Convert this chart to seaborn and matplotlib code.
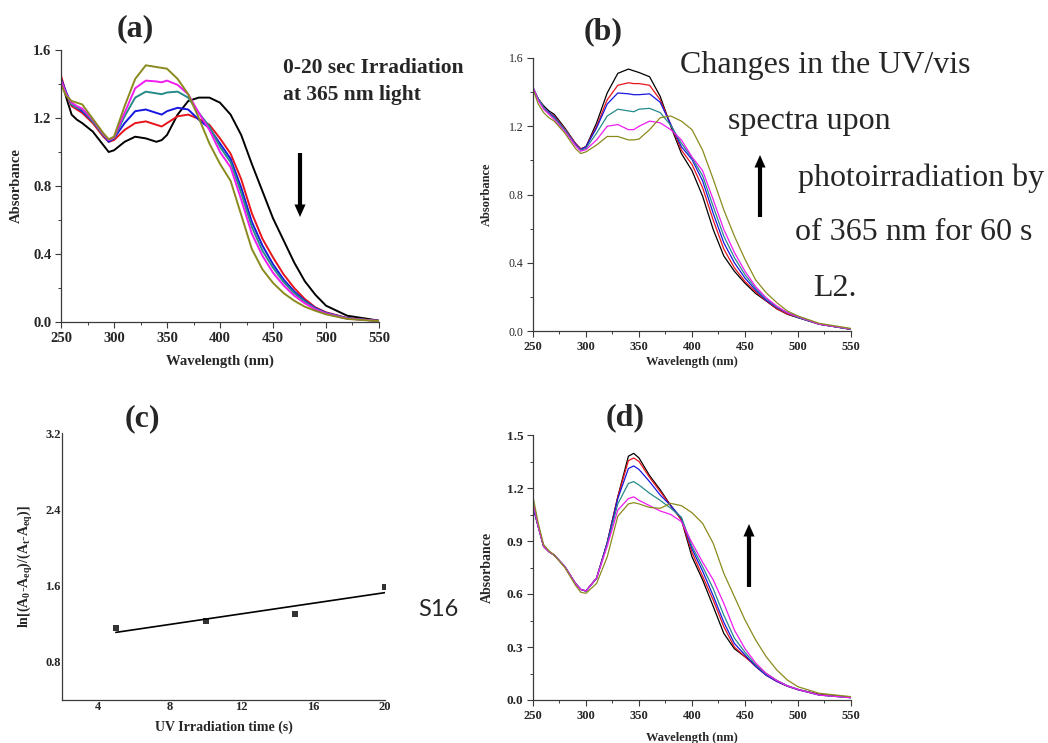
import numpy as np
import pandas as pd
import matplotlib
matplotlib.use("Agg")
import matplotlib.pyplot as plt
import seaborn as sns
from matplotlib.ticker import MultipleLocator
from matplotlib.patches import FancyArrowPatch

# ---------------- data ----------------
WL = [250, 255, 260, 265, 270, 280, 290, 295, 300, 310, 320, 330, 340, 345, 350,
      360, 370, 380, 390, 400, 410, 420, 430, 440, 450, 460, 470, 480, 490, 500, 520, 550]

TRACES = ["black", "red", "blue", "teal", "magenta", "olive"]
PALETTE = {"black": "#000000", "red": "#e8141c", "blue": "#1717e0",
           "teal": "#268a8a", "magenta": "#f01cf0", "olive": "#8a8a1e"}

# panel (a): 0-20 s irradiation
a_black = [1.43, 1.32, 1.22, 1.19, 1.17, 1.12, 1.04, 1.00, 1.01, 1.06, 1.09, 1.08, 1.06, 1.07, 1.10,
           1.22, 1.30, 1.32, 1.32, 1.29, 1.22, 1.10, 0.93, 0.77, 0.61, 0.48, 0.35, 0.24, 0.16, 0.096, 0.037, 0.008]
a_red = [1.45, 1.34, 1.27, 1.25, 1.23, 1.17, 1.09, 1.06, 1.07, 1.13, 1.17, 1.18, 1.16, 1.15, 1.17,
         1.21, 1.22, 1.195, 1.16, 1.08, 0.99, 0.84, 0.64, 0.49, 0.38, 0.28, 0.20, 0.135, 0.086, 0.057, 0.023, 0.006]
a_blue = [1.43, 1.35, 1.28, 1.26, 1.24, 1.18, 1.10, 1.06, 1.08, 1.17, 1.24, 1.25, 1.23, 1.22, 1.24,
          1.26, 1.25, 1.19, 1.14, 1.05, 0.96, 0.79, 0.59, 0.45, 0.34, 0.25, 0.18, 0.125, 0.082, 0.054, 0.022, 0.006]
a_teal = [1.42, 1.34, 1.28, 1.26, 1.25, 1.18, 1.10, 1.07, 1.08, 1.21, 1.32, 1.355, 1.345, 1.34, 1.35,
          1.355, 1.32, 1.23, 1.15, 1.03, 0.94, 0.76, 0.56, 0.42, 0.32, 0.235, 0.17, 0.12, 0.078, 0.052, 0.021, 0.006]
a_magenta = [1.42, 1.34, 1.29, 1.27, 1.255, 1.19, 1.105, 1.07, 1.085, 1.23, 1.375, 1.42, 1.415, 1.41, 1.42,
             1.395, 1.34, 1.23, 1.13, 1.00, 0.91, 0.72, 0.52, 0.39, 0.29, 0.215, 0.155, 0.11, 0.074, 0.05, 0.02, 0.006]
a_olive = [1.395, 1.33, 1.30, 1.29, 1.28, 1.195, 1.11, 1.075, 1.09, 1.27, 1.43, 1.51, 1.50, 1.495, 1.49,
           1.43, 1.34, 1.20, 1.05, 0.93, 0.83, 0.63, 0.43, 0.31, 0.23, 0.17, 0.125, 0.09, 0.066, 0.045, 0.018, 0.005]

# panel (b): 60 s photoirradiation
b_black = [1.415, 1.36, 1.32, 1.29, 1.27, 1.19, 1.10, 1.067, 1.08, 1.22, 1.395, 1.51, 1.535, 1.525, 1.515,
           1.49, 1.375, 1.20, 1.04, 0.94, 0.79, 0.595, 0.44, 0.35, 0.28, 0.22, 0.176, 0.13, 0.098, 0.078, 0.04, 0.01]
b_red = [1.42, 1.36, 1.31, 1.28, 1.26, 1.185, 1.10, 1.067, 1.08, 1.20, 1.355, 1.44, 1.455, 1.45, 1.45,
         1.44, 1.355, 1.21, 1.06, 0.976, 0.84, 0.65, 0.48, 0.37, 0.29, 0.23, 0.176, 0.13, 0.10, 0.08, 0.04, 0.01]
b_blue = [1.42, 1.36, 1.31, 1.28, 1.255, 1.18, 1.095, 1.063, 1.08, 1.19, 1.33, 1.395, 1.39, 1.385, 1.385,
          1.39, 1.34, 1.21, 1.08, 1.005, 0.88, 0.69, 0.517, 0.40, 0.31, 0.24, 0.18, 0.137, 0.107, 0.08, 0.04, 0.01]
b_teal = [1.43, 1.36, 1.31, 1.275, 1.25, 1.18, 1.09, 1.06, 1.07, 1.16, 1.26, 1.30, 1.29, 1.285, 1.30,
          1.305, 1.28, 1.205, 1.10, 1.015, 0.91, 0.73, 0.556, 0.43, 0.33, 0.25, 0.19, 0.14, 0.107, 0.08, 0.04, 0.01]
b_magenta = [1.43, 1.35, 1.30, 1.27, 1.24, 1.17, 1.087, 1.054, 1.063, 1.12, 1.20, 1.21, 1.18, 1.18, 1.20,
             1.23, 1.22, 1.18, 1.12, 1.02, 0.94, 0.77, 0.595, 0.46, 0.35, 0.26, 0.195, 0.146, 0.107, 0.084, 0.04, 0.012]
b_olive = [1.415, 1.33, 1.28, 1.25, 1.23, 1.16, 1.07, 1.04, 1.05, 1.09, 1.14, 1.14, 1.12, 1.12, 1.125,
           1.18, 1.25, 1.26, 1.23, 1.18, 1.06, 0.89, 0.71, 0.556, 0.42, 0.30, 0.224, 0.166, 0.117, 0.088, 0.045, 0.015]

# panel (d)
d_black = [1.10, 0.98, 0.87, 0.84, 0.82, 0.755, 0.66, 0.626, 0.617, 0.69, 0.89, 1.15, 1.38, 1.396, 1.37,
           1.27, 1.19, 1.10, 1.02, 0.81, 0.68, 0.53, 0.377, 0.29, 0.245, 0.198, 0.15, 0.11, 0.08, 0.06, 0.032, 0.016]
d_red = [1.10, 0.98, 0.87, 0.84, 0.82, 0.755, 0.66, 0.626, 0.617, 0.69, 0.89, 1.15, 1.355, 1.37, 1.35,
         1.26, 1.18, 1.10, 1.02, 0.835, 0.70, 0.566, 0.415, 0.30, 0.245, 0.19, 0.14, 0.105, 0.078, 0.058, 0.03, 0.014]
d_blue = [1.09, 0.98, 0.87, 0.84, 0.82, 0.755, 0.66, 0.626, 0.617, 0.69, 0.89, 1.14, 1.31, 1.325, 1.305,
          1.236, 1.16, 1.10, 1.03, 0.855, 0.73, 0.59, 0.44, 0.32, 0.255, 0.19, 0.14, 0.105, 0.078, 0.058, 0.028, 0.013]
d_teal = [1.11, 0.98, 0.87, 0.84, 0.82, 0.755, 0.66, 0.626, 0.617, 0.69, 0.88, 1.11, 1.226, 1.236, 1.217,
          1.17, 1.13, 1.085, 1.034, 0.87, 0.755, 0.63, 0.48, 0.35, 0.27, 0.20, 0.147, 0.11, 0.08, 0.06, 0.028, 0.013]
d_magenta = [1.12, 0.98, 0.87, 0.84, 0.82, 0.755, 0.66, 0.626, 0.617, 0.69, 0.87, 1.075, 1.14, 1.15, 1.13,
             1.10, 1.07, 1.05, 1.01, 0.89, 0.78, 0.68, 0.547, 0.396, 0.29, 0.21, 0.15, 0.11, 0.08, 0.06, 0.028, 0.013]
d_olive = [1.15, 1.00, 0.88, 0.845, 0.82, 0.75, 0.65, 0.61, 0.604, 0.66, 0.81, 1.04, 1.11, 1.117, 1.11,
           1.09, 1.085, 1.113, 1.10, 1.06, 1.00, 0.887, 0.717, 0.585, 0.453, 0.34, 0.245, 0.17, 0.113, 0.075, 0.038, 0.019]

# panel (c): kinetics
t_irr = [5, 10, 15, 20]
ln_ratio = [1.15, 1.23, 1.30, 1.59]

# ticks
SPEC_XT = [250, 300, 350, 400, 450, 500, 550]
AB_YT = [0.0, 0.4, 0.8, 1.2, 1.6]
D_YT = [0.0, 0.3, 0.6, 0.9, 1.2, 1.5]
C_XT = [4, 8, 12, 16, 20]
C_YT = [0.8, 1.6, 2.4, 3.2]

# ---------------- style ----------------
sns.set_theme(style="ticks")
plt.rcParams["font.family"] = ["Liberation Serif", "DejaVu Serif"]
plt.rcParams["mathtext.fontset"] = "custom"
plt.rcParams["mathtext.rm"] = "Liberation Serif"
plt.rcParams["mathtext.bf"] = "Liberation Serif:bold"
plt.rcParams["mathtext.it"] = "Liberation Serif:italic"

FW, FH = 1048, 743
fig = plt.figure(figsize=(FW / 100, FH / 100), dpi=100)


def box(x0, y0, x1, y1):
    return [x0 / FW, 1 - y1 / FH, (x1 - x0) / FW, (y1 - y0) / FH]


def fp(x, y):
    return (x / FW, 1 - y / FH)


def long_df(series):
    rows = []
    for name, vals in zip(TRACES, series):
        rows.append(pd.DataFrame({"Wavelength": WL, "Absorbance": vals, "trace": name}))
    return pd.concat(rows, ignore_index=True)


def spectra(ax, series, lw):
    sns.lineplot(data=long_df(series), x="Wavelength", y="Absorbance", hue="trace",
                 hue_order=TRACES, palette=PALETTE, legend=False, ax=ax,
                 estimator=None, sort=False, lw=lw)


def style_axis(ax, xt, yt, xlim, ylim, xminor, yminor, xsize, ysize, yweight="bold"):
    ax.set_xlim(*xlim)
    ax.set_ylim(*ylim)
    ax.set_xticks(xt)
    ax.set_xticklabels([str(v) for v in xt], fontweight="bold", fontsize=xsize)
    ax.set_yticks(yt)
    ax.set_yticklabels([f"{v:.1f}" for v in yt], fontweight=yweight, fontsize=ysize)
    if xminor:
        ax.xaxis.set_minor_locator(MultipleLocator(xminor))
    if yminor:
        ax.yaxis.set_minor_locator(MultipleLocator(yminor))
    sns.despine(ax=ax)
    for s in ("left", "bottom"):
        ax.spines[s].set_color("#3a3a3a")
        ax.spines[s].set_linewidth(0.9)
    ax.tick_params(which="major", direction="out", length=4, width=0.8, color="#3a3a3a", pad=3)
    ax.tick_params(which="minor", direction="out", length=2.2, width=0.7, color="#3a3a3a")


# ---- (a)
axa = fig.add_axes(box(61, 50, 379, 322))
spectra(axa, [a_black, a_red, a_blue, a_teal, a_magenta, a_olive], 1.4)
style_axis(axa, SPEC_XT, AB_YT, (250, 550), (0, 1.6), 25, 0.2, 10.5, 10.5)
axa.set_xlabel("Wavelength (nm)", fontweight="bold", fontsize=10.5)
axa.set_ylabel("Absorbance", fontweight="bold", fontsize=10.5)
axa.xaxis.set_label_coords(0.5, -0.12)
axa.yaxis.set_label_coords(-0.12, 0.5)

# ---- (b)
axb = fig.add_axes(box(533, 58, 851, 331))
spectra(axb, [b_black, b_red, b_blue, b_teal, b_magenta, b_olive], 0.9)
style_axis(axb, SPEC_XT, AB_YT, (250, 550), (0, 1.6), 25, 0.2, 9, 8.5, yweight="normal")
axb.set_xlabel("Wavelength (nm)", fontweight="bold", fontsize=9)
axb.set_ylabel("Absorbance", fontweight="bold", fontsize=9)
axb.xaxis.set_label_coords(0.5, -0.09)
axb.yaxis.set_label_coords(-0.125, 0.5)

# ---- (c)
axc = fig.add_axes(box(62, 433, 385, 700))
sns.regplot(x=t_irr, y=ln_ratio, ax=axc, ci=None, marker="s", color="black",
            scatter_kws=dict(s=24, linewidths=0), line_kws=dict(lw=1.2))
style_axis(axc, C_XT, C_YT, (2, 20), (0.4, 3.2), None, None, 9, 9)
axc.tick_params(which="major", length=0, pad=1)
axc.set_xlabel("UV Irradiation time (s)", fontweight="bold", fontsize=10)
axc.set_ylabel(r"ln[(A$_\mathbf{0}$-A$_\mathbf{eq}$)/(A$_\mathbf{t}$-A$_\mathbf{eq}$)]",
               fontweight="bold", fontsize=10)
axc.xaxis.set_label_coords(0.5, -0.075)
axc.yaxis.set_label_coords(-0.085, 0.5)

# ---- (d)
axd = fig.add_axes(box(533, 435, 851, 700))
spectra(axd, [d_black, d_red, d_blue, d_teal, d_magenta, d_olive], 0.9)
style_axis(axd, SPEC_XT, D_YT, (250, 550), (0, 1.5), 25, 0.15, 9, 9.5)
axd.set_xlabel("Wavelength (nm)", fontweight="bold", fontsize=9)
axd.set_ylabel("Absorbance", fontweight="bold", fontsize=10)
axd.xaxis.set_label_coords(0.5, -0.12)
axd.yaxis.set_label_coords(-0.123, 0.5)

# ---------------- annotations ----------------
for lab, (x, y) in {"(a)": (135, 29), "(b)": (603, 32), "(c)": (142, 419), "(d)": (625, 418)}.items():
    fig.text(*fp(x, y), lab, fontsize=23, fontweight="bold", ha="center", va="center")

fig.text(*fp(283, 68), "0-20 sec Irradiation", fontsize=15.5, fontweight="bold", ha="left", va="center")
fig.text(*fp(283, 95), "at 365 nm light", fontsize=15.5, fontweight="bold", ha="left", va="center")

for txt, x, y in [("Changes in the UV/vis", 680, 65), ("spectra upon", 728, 122),
                  ("photoirradiation by", 798, 178), ("of 365 nm for 60 s", 795, 232),
                  ("L2.", 813, 288)]:
    fig.text(*fp(x, y), txt, fontsize=23, family=["Liberation Serif"], ha="left", va="center")

fig.text(*fp(418, 610), "S16", fontsize=17, family=["Lato", "DejaVu Sans"], ha="left", va="center")

arrow_kw = dict(arrowstyle="simple,head_length=0.9,head_width=0.8,tail_width=0.3",
                mutation_scale=10, lw=0, color="black", shrinkA=0, shrinkB=0)
for (x0, y0), (x1, y1) in [((300, 153), (300, 217)), ((760, 217), (760, 155)), ((749, 587), (749, 524))]:
    fig.add_artist(FancyArrowPatch(fp(x0, y0), fp(x1, y1), transform=fig.transFigure, **arrow_kw))

fig.savefig("out.png", dpi=100)
